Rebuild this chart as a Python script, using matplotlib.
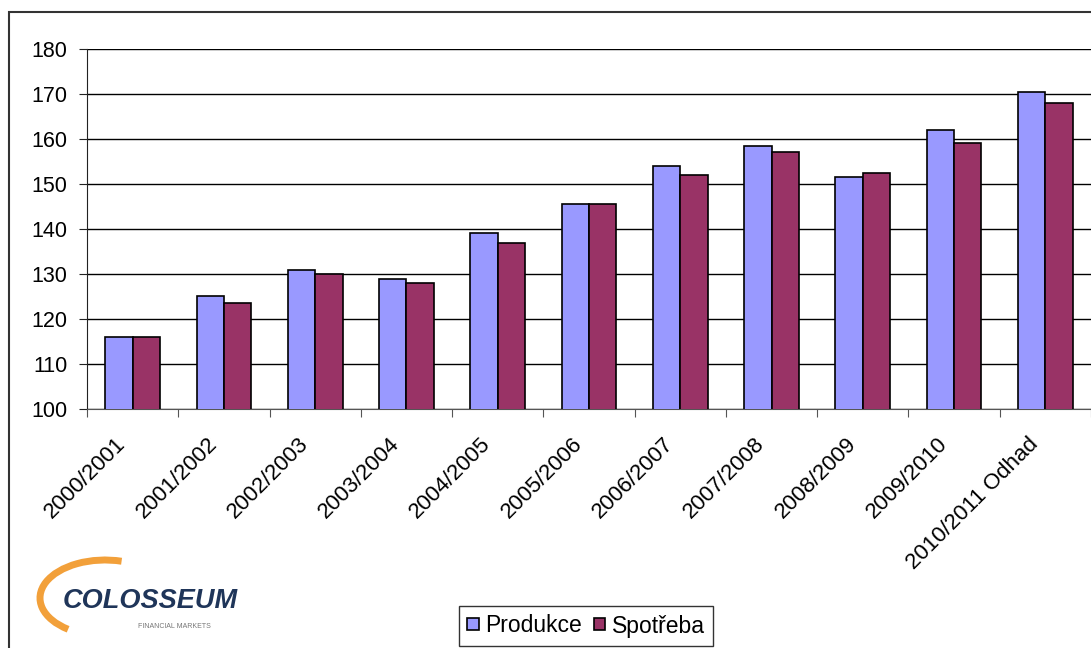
import matplotlib.pyplot as plt
import matplotlib.patches as patches
from matplotlib.transforms import ScaledTranslation
import numpy as np

# data
seasons = ["2000/2001", "2001/2002", "2002/2003", "2003/2004", "2004/2005",
           "2005/2006", "2006/2007", "2007/2008", "2008/2009", "2009/2010",
           "2010/2011 Odhad"]
produkce = [116.0, 125.2, 130.8, 128.8, 139.2, 145.6, 154.0, 158.4, 151.6, 162.0, 170.4]
spotreba = [116.0, 123.6, 130.0, 128.0, 136.8, 145.6, 152.0, 157.2, 152.4, 159.2, 168.0]

plt.rcParams['font.family'] = ['Liberation Sans', 'DejaVu Sans']

fig = plt.figure(figsize=(10.91, 6.48), dpi=100)
ax = fig.add_axes([87 / 1091, 1 - 409 / 648, 1 - 87 / 1091, (409 - 49) / 648])

x = np.arange(len(seasons))
w = 0.3
ax.bar(x - w / 2, produkce, w, color="#9999FF", edgecolor="black", linewidth=1.2,
       label="Produkce", zorder=3)
ax.bar(x + w / 2, spotreba, w, color="#993366", edgecolor="black", linewidth=1.2,
       label="Spotřeba", zorder=3)

ax.set_xlim(-0.5, len(seasons) - 0.5)
ax.set_ylim(100, 180)
ax.set_yticks(range(100, 181, 10))
ax.yaxis.grid(True, color="black", linewidth=1)
ax.set_axisbelow(True)
for s in ["top", "right"]:
    ax.spines[s].set_visible(False)
ax.spines["left"].set_color("#222222")
ax.spines["bottom"].set_color("#555555")

# ticks between categories, labels at centres
ax.set_xticks(np.arange(-0.5, len(seasons), 1.0))
ax.set_xticklabels([])
ax.set_xticks(x, minor=True)
ax.set_xticklabels(seasons, minor=True, rotation=45, ha="right", va="center",
                   rotation_mode="anchor", fontsize=16)
ax.tick_params(axis="x", which="minor", length=0, pad=21)
ax.tick_params(axis="x", which="major", length=6, direction="out", color="#555555")
ax.tick_params(axis="y", labelsize=15.5, length=6, pad=8, color="#222222")
shift = ScaledTranslation(-0.10, -0.03, fig.dpi_scale_trans)
for lab in ax.get_xticklabels(minor=True):
    lab.set_transform(lab.get_transform() + shift)

ax.legend(loc="center", bbox_to_anchor=(586 / 1091, 1 - 626 / 648),
          bbox_transform=fig.transFigure, ncol=2, fontsize=16.5, frameon=True,
          fancybox=False, edgecolor="#333333", handlelength=0.5, handleheight=0.45,
          handletextpad=0.3, columnspacing=0.5, borderpad=0.35, framealpha=1)

# outer chart border
fig.add_artist(patches.Rectangle((9 / 1091, -0.1), 1.2, 1 - 12 / 648 + 0.1,
                                 transform=fig.transFigure, fill=False,
                                 edgecolor="#333333", linewidth=1.5))

# logo
fig.add_artist(patches.Arc((105 / 1091, 1 - 598 / 648), 130 / 1091, 76 / 648,
                           theta1=75, theta2=235, transform=fig.transFigure,
                           color="#F2A03A", linewidth=5))
fig.text(63 / 1091, 1 - 601 / 648, "COLOSSEUM", fontsize=19.5, fontweight="bold",
         fontstyle="italic", color="#1F3559", ha="left", va="center")
fig.text(138 / 1091, 1 - 627 / 648, "FINANCIAL MARKETS", fontsize=5,
         color="#777777", ha="left", va="center")

fig.savefig("out.png", dpi=100)
